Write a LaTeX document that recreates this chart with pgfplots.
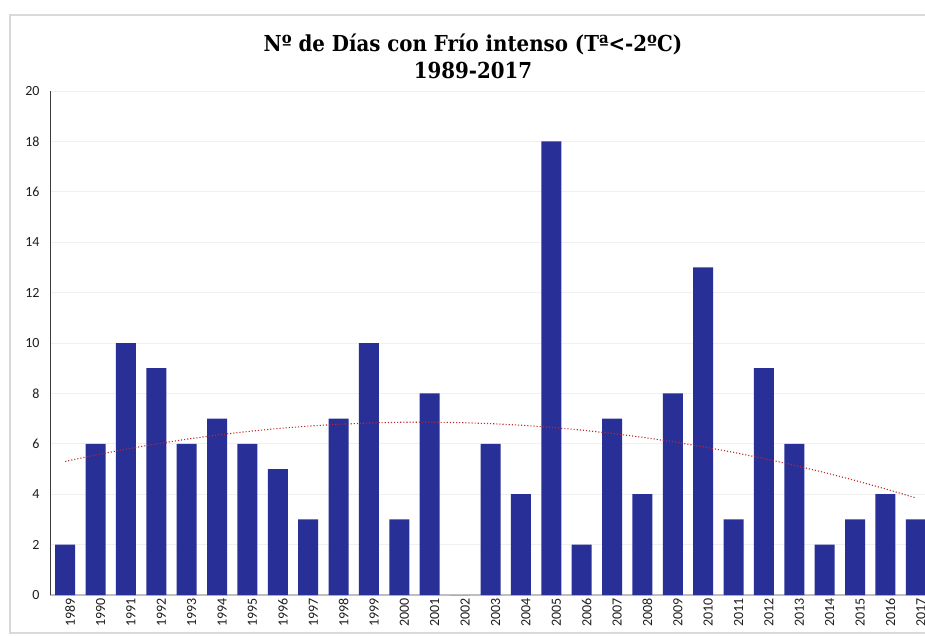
\documentclass[border=0pt]{standalone}
\usepackage{fontspec}
\setmainfont{Carlito}
\newfontfamily\titlefont{DejaVu Serif Condensed}
\usepackage{pgfplots}
\pgfplotsset{compat=1.18}
\newcommand\tickfont{\fontsize{14}{16}\selectfont}
\definecolor{barblue}{RGB}{40,47,151}
\definecolor{trendred}{RGB}{192,40,40}
\definecolor{framegray}{RGB}{217,217,217}
\definecolor{gridgray}{RGB}{240,240,240}
\definecolor{xaxisgray}{RGB}{191,191,191}
\definecolor{yaxisgray}{RGB}{60,60,60}
\definecolor{labelgray}{RGB}{30,30,30}
\begin{document}
\begin{tikzpicture}[x=1pt,y=1pt]
\useasboundingbox (0,0) rectangle (925,635);
\fill[white] (0,0) rectangle (925,635);
\draw[line width=1.5pt, framegray] (950,2) -- (10,2) -- (10,620) -- (950,620);
\node[align=center, font=\titlefont\bfseries\fontsize{22}{27}\selectfont] at (473,579) {Nº de Días con Frío intenso (Tª<-2ºC)\\1989-2017};
\begin{axis}[
  at={(50pt,40pt)}, anchor=south west,
  scale only axis, width=881pt, height=504pt,
  xmin=-0.5, xmax=28.5, ymin=0, ymax=20,
  ytick={0,2,...,20},
  xtick={0,...,28},
  xticklabels={1989,1990,1991,1992,1993,1994,1995,1996,1997,1998,1999,2000,2001,2002,2003,2004,2005,2006,2007,2008,2009,2010,2011,2012,2013,2014,2015,2016,2017},
  tick style={draw=none},
  major tick length=0pt,
  ymajorgrids, grid style={gridgray, line width=0.8pt},
  axis x line*=bottom, axis y line*=left,
  x axis line style={xaxisgray, line width=1.6pt, -},
  y axis line style={yaxisgray, line width=0.9pt, -},
  /pgf/number format/assume math mode=true,
  yticklabel style={font=\tickfont, text=labelgray, anchor=east, xshift=-7pt},
  xticklabel style={font=\tickfont, text=labelgray, rotate=90, anchor=east, xshift=0pt, yshift=-5pt},
  clip=false,
]
\addplot[ybar, bar width=20pt, fill=barblue, draw=none] coordinates {
(0,2) (1,6) (2,10) (3,9) (4,6) (5,7) (6,6) (7,5) (8,3) (9,7) (10,10) (11,3) (12,8) (13,0) (14,6) (15,4) (16,18) (17,2) (18,7) (19,4) (20,8) (21,13) (22,3) (23,9) (24,6) (25,2) (26,3) (27,4) (28,3)};
\addplot[trendred, dotted, line width=1.1pt, mark=none] coordinates {
(0,5.30) (1,5.555) (2,5.787) (3,5.996) (4,6.183) (5,6.347) (6,6.488) (7,6.607) (8,6.702) (9,6.776) (10,6.826) (11,6.854) (12,6.859) (13,6.841) (14,6.801) (15,6.738) (16,6.652) (17,6.544) (18,6.412) (19,6.259) (20,6.082) (21,5.883) (22,5.661) (23,5.416) (24,5.149) (25,4.859) (26,4.546) (27,4.211) (28,3.852)};
\end{axis}
\end{tikzpicture}
\end{document}
